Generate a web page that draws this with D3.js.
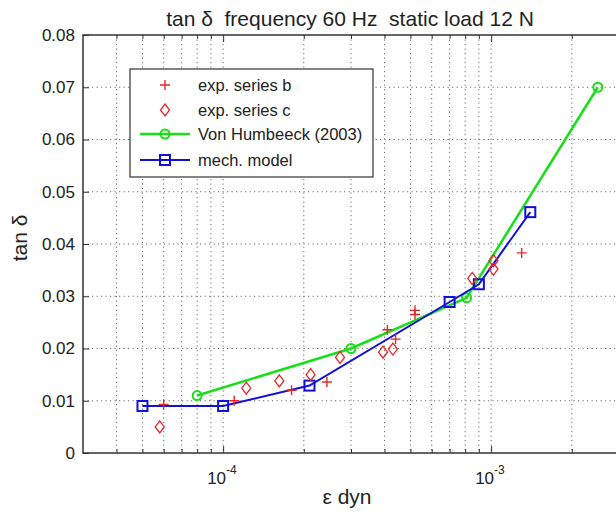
<!DOCTYPE html>
<html lang="en">

<head>
    <meta charset="utf-8">
    <script src="https://d3js.org/d3.v7.min.js"></script>
    <style>
        body { margin: 0; background: #fff; }
        svg text { font-family: "Liberation Sans", Arial, sans-serif; fill: #222; }
    </style>
</head>

<body>
    <div id="chart"></div>

    <script>
        // data
        const seriesBx = [6e-5, 1.1e-4, 1.8e-4, 2.44e-4, 4.1e-4, 4.4e-4, 5.2e-4, 5.2e-4, 1.3e-3];
        const seriesBy = [0.0093, 0.0100, 0.0120, 0.0136, 0.0236, 0.0218, 0.0273, 0.0265, 0.0383];

        const seriesCx = [5.8e-5, 1.22e-4, 1.62e-4, 2.12e-4, 2.73e-4, 3.95e-4, 4.3e-4, 8.5e-4, 1.02e-3, 1.02e-3];
        const seriesCy = [0.0050, 0.0124, 0.0138, 0.0150, 0.0183, 0.0193, 0.0199, 0.0334, 0.0352, 0.0368];

        const humbeeckX = [8e-5, 3e-4, 8.1e-4, 2.5e-3];
        const humbeeckY = [0.011, 0.020, 0.0297, 0.070];

        const modelX = [5e-5, 1e-4, 2.1e-4, 7e-4, 9e-4, 1.4e-3];
        const modelY = [0.0090, 0.0090, 0.0129, 0.0289, 0.0323, 0.0461];

        const yTicks = [0, 0.01, 0.02, 0.03, 0.04, 0.05, 0.06, 0.07, 0.08];
        const xMajor = [1e-4, 1e-3];
        const xMinor = [4e-5, 5e-5, 6e-5, 7e-5, 8e-5, 9e-5, 2e-4, 3e-4, 4e-4, 5e-4, 6e-4, 7e-4, 8e-4, 9e-4, 2e-3];

        const legendLabels = ["exp. series b", "exp. series c", "Von Humbeeck (2003)", "mech. model"];

        const width = 616, height = 515;
        const mLeft = 83, mTop = 35, mRight = 619, mBottom = 453;

        const red = "#e8262a", green = "#18e018", blue = "#1010d8";

        const svg = d3.select("#chart").append("svg")
            .attr("width", width)
            .attr("height", height);

        // scales
        const x = d3.scaleLog().domain([3e-5, 3e-3]).range([mLeft, mRight]);
        const y = d3.scaleLinear().domain([0, 0.08]).range([mBottom, mTop]);

        // dotted grid
        const grid = svg.append("g")
            .attr("stroke", "#6a6a6a")
            .attr("stroke-width", 1)
            .attr("stroke-dasharray", "1.2,3.3");
        grid.selectAll(".vg")
            .data(xMinor.concat(xMajor))
            .enter().append("line")
            .attr("x1", d => x(d)).attr("x2", d => x(d))
            .attr("y1", mTop).attr("y2", mBottom);
        grid.selectAll(".hg")
            .data(yTicks.slice(1, -1))
            .enter().append("line")
            .attr("x1", mLeft).attr("x2", mRight)
            .attr("y1", d => y(d)).attr("y2", d => y(d));

        // ticks pointing inwards (bottom / top)
        const axisStyle = g => {
            g.select(".domain").remove();
            g.selectAll("line").attr("stroke", "#333").attr("stroke-width", 1);
            g.selectAll("text").remove();
        };
        svg.append("g").attr("transform", `translate(0,${mBottom})`)
            .call(d3.axisBottom(x).tickValues(xMinor).tickSize(-4)).call(axisStyle);
        svg.append("g").attr("transform", `translate(0,${mBottom})`)
            .call(d3.axisBottom(x).tickValues(xMajor).tickSize(-7)).call(axisStyle);
        svg.append("g").attr("transform", `translate(0,${mTop})`)
            .call(d3.axisTop(x).tickValues(xMinor).tickSize(-4)).call(axisStyle);
        svg.append("g").attr("transform", `translate(0,${mTop})`)
            .call(d3.axisTop(x).tickValues(xMajor).tickSize(-7)).call(axisStyle);

        // left axis with labels
        const yAxis = svg.append("g").attr("transform", `translate(${mLeft},0)`)
            .call(d3.axisLeft(y).tickValues(yTicks).tickSize(-6).tickPadding(8)
                .tickFormat(d => d === 0 ? "0" : d3.format(".2f")(d)));
        yAxis.select(".domain").remove();
        yAxis.selectAll("line").attr("stroke", "#333");
        yAxis.selectAll("text")
            .style("font-size", "17px")
            .style("font-family", "Liberation Sans, Arial, sans-serif")
            .attr("fill", "#222");

        // x tick labels 10^n
        const xl = svg.selectAll(".xl")
            .data(xMajor)
            .enter().append("text")
            .attr("x", d => x(d) - 16)
            .attr("y", 484)
            .style("font-size", "17px");
        xl.append("tspan").text("10");
        xl.append("tspan").attr("dy", -10).style("font-size", "12px")
            .text(d => Math.round(Math.log10(d)));

        // axes box
        svg.append("rect")
            .attr("x", mLeft).attr("y", mTop)
            .attr("width", mRight - mLeft).attr("height", mBottom - mTop)
            .attr("fill", "none").attr("stroke", "#333").attr("stroke-width", 1.5);

        // titles
        svg.append("text")
            .attr("x", 350).attr("y", 26)
            .attr("text-anchor", "middle")
            .style("font-size", "21px")
            .style("white-space", "pre")
            .text("tan δ  frequency 60 Hz  static load 12 N");
        svg.append("text")
            .attr("x", 347).attr("y", 504)
            .attr("text-anchor", "middle")
            .style("font-size", "21px")
            .text("ε dyn");
        svg.append("text")
            .attr("transform", "translate(27,238) rotate(-90)")
            .attr("text-anchor", "middle")
            .style("font-size", "21px")
            .text("tan δ");

        // marker helpers
        const plus = (g, s) => g.append("path").attr("d", `M${-s},0H${s}M0,${-s}V${s}`)
            .attr("stroke", red).attr("stroke-width", 1.4).attr("fill", "none");
        const diamond = (g, w, h) => g.append("path").attr("d", `M0,${-h}L${w},0L0,${h}L${-w},0Z`)
            .attr("stroke", red).attr("stroke-width", 1.3).attr("fill", "none");
        const circle = g => g.append("circle").attr("r", 4.5)
            .attr("stroke", green).attr("stroke-width", 2).attr("fill", "none");
        const square = g => g.append("rect").attr("x", -5).attr("y", -5).attr("width", 10).attr("height", 10)
            .attr("stroke", blue).attr("stroke-width", 2).attr("fill", "none");

        const line = d3.line().x(d => x(d[0])).y(d => y(d[1]));

        // Von Humbeeck line
        const hum = d3.zip(humbeeckX, humbeeckY);
        svg.append("path").datum(hum).attr("d", line)
            .attr("fill", "none").attr("stroke", green).attr("stroke-width", 2.5);
        svg.selectAll(".hm").data(hum).enter().append("g")
            .attr("transform", d => `translate(${x(d[0])},${y(d[1])})`)
            .each(function () { circle(d3.select(this)); });

        // mech. model line
        const mod = d3.zip(modelX, modelY);
        svg.append("path").datum(mod).attr("d", line)
            .attr("fill", "none").attr("stroke", blue).attr("stroke-width", 2);
        svg.selectAll(".mm").data(mod).enter().append("g")
            .attr("transform", d => `translate(${x(d[0])},${y(d[1])})`)
            .each(function () { square(d3.select(this)); });

        // experimental series
        svg.selectAll(".sb").data(d3.zip(seriesBx, seriesBy)).enter().append("g")
            .attr("transform", d => `translate(${x(d[0])},${y(d[1])})`)
            .each(function () { plus(d3.select(this), 5); });
        svg.selectAll(".sc").data(d3.zip(seriesCx, seriesCy)).enter().append("g")
            .attr("transform", d => `translate(${x(d[0])},${y(d[1])})`)
            .each(function () { diamond(d3.select(this), 4.5, 6); });

        // legend
        const lg = svg.append("g").attr("transform", "translate(130,69)");
        lg.append("rect").attr("width", 243).attr("height", 108)
            .attr("fill", "#fff").attr("stroke", "#333").attr("stroke-width", 1.2);
        const rowY = [16, 41, 65, 91];
        legendLabels.forEach((lab, i) => {
            const row = lg.append("g").attr("transform", `translate(35,${rowY[i]})`);
            if (i === 0) plus(row, 5);
            if (i === 1) diamond(row, 4.5, 6);
            if (i === 2) {
                row.append("line").attr("x1", -25).attr("x2", 25).attr("stroke", green).attr("stroke-width", 2.5);
                circle(row);
            }
            if (i === 3) {
                row.append("line").attr("x1", -25).attr("x2", 25).attr("stroke", blue).attr("stroke-width", 2);
                square(row);
            }
            lg.append("text").attr("x", 68).attr("y", rowY[i] + 6)
                .style("font-size", "16.5px").text(lab);
        });
    </script>
</body>

</html>
